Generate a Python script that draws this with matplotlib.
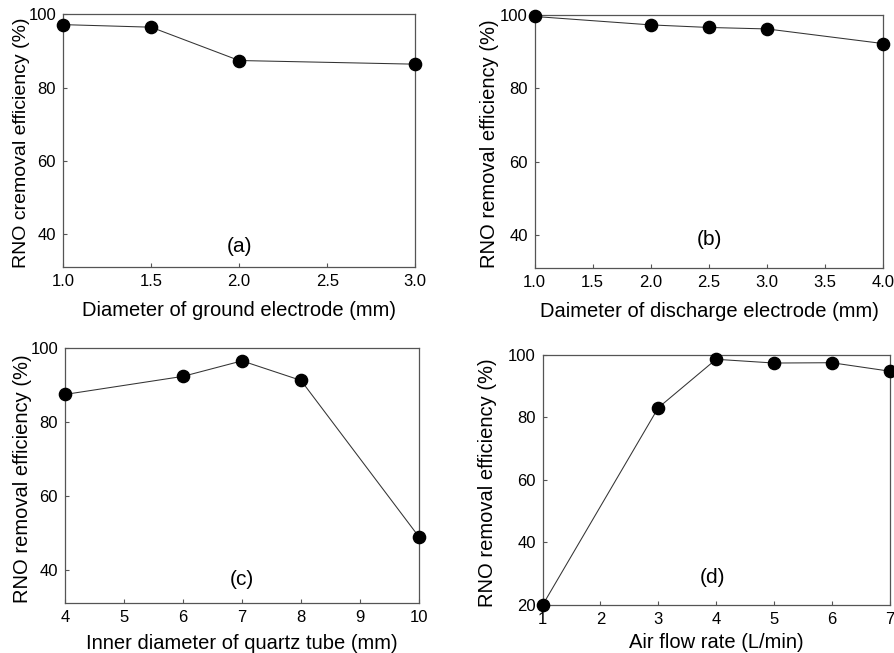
import matplotlib
matplotlib.use("Agg")
import matplotlib.pyplot as plt

plt.rcParams['font.family'] = ['Liberation Sans', 'DejaVu Sans']

# (a) ground electrode diameter
xa = [1.0, 1.5, 2.0, 3.0]
ya = [97.2, 96.5, 87.4, 86.4]
# (b) discharge electrode diameter
xb = [1.0, 2.0, 2.5, 3.0, 4.0]
yb = [99.6, 97.3, 96.6, 96.2, 92.2]
# (c) quartz tube inner diameter
xc = [4, 6, 7, 8, 10]
yc = [87.5, 92.4, 96.6, 91.3, 48.9]
# (d) air flow rate
xd = [1, 3, 4, 5, 6, 7]
yd = [20.0, 83.1, 98.6, 97.4, 97.5, 94.8]

fig = plt.figure(figsize=(8.94, 6.53), dpi=100)

panels = [
    dict(pos=[0.0705, 0.591, 0.394, 0.387], x=xa, y=ya, xlim=(1, 3), ylim=(31, 100),
         xt=[1.0, 1.5, 2.0, 2.5, 3.0], yt=[40, 60, 80, 100], fmt='{:.1f}',
         xl='Diameter of ground electrode (mm)', yl='RNO cremoval efficiency (%)',
         tag='(a)', tpos=(0.5, 0.08), ylc=-0.095, ylf=14, xlc=-0.135),
    dict(pos=[0.598, 0.590, 0.390, 0.387], x=xb, y=yb, xlim=(1, 4), ylim=(31, 100),
         xt=[1.0, 1.5, 2.0, 2.5, 3.0, 3.5, 4.0], yt=[40, 60, 80, 100], fmt='{:.1f}',
         xl='Daimeter of discharge electrode (mm)', yl='RNO removal efficiency (%)',
         tag='(b)', tpos=(0.5, 0.11), ylc=-0.103, ylf=14.5, xlc=-0.135),
    dict(pos=[0.0727, 0.0766, 0.396, 0.390], x=xc, y=yc, xlim=(4, 10), ylim=(31, 100),
         xt=[4, 5, 6, 7, 8, 9, 10], yt=[40, 60, 80, 100], fmt='{:d}',
         xl='Inner diameter of quartz tube (mm)', yl='RNO removal efficiency (%)',
         tag='(c)', tpos=(0.5, 0.094), ylc=-0.093, ylf=14.5, xlc=-0.12),
    dict(pos=[0.607, 0.0735, 0.388, 0.383], x=xd, y=yd, xlim=(1, 7), ylim=(20, 100),
         xt=[1, 2, 3, 4, 5, 6, 7], yt=[20, 40, 60, 80, 100], fmt='{:d}',
         xl='Air flow rate (L/min)', yl='RNO removal efficiency (%)',
         tag='(d)', tpos=(0.49, 0.11), ylc=-0.133, ylf=14.5, xlc=-0.11),
]

for p in panels:
    ax = fig.add_axes(p['pos'])
    ax.plot(p['x'], p['y'], color='#333333', lw=0.75, marker='o', ms=8.8,
            mfc='black', mec='black', clip_on=False, zorder=3)
    ax.set_xlim(*p['xlim'])
    ax.set_ylim(*p['ylim'])
    ax.set_xticks(p['xt'])
    ax.set_xticklabels([p['fmt'].format(v) for v in p['xt']])
    ax.set_yticks(p['yt'])
    for s in ax.spines.values():
        s.set_color('#555555')
        s.set_linewidth(0.9)
    ax.tick_params(direction='in', length=3, width=0.8, color='#555555',
                   labelsize=12, pad=5)
    ax.set_xlabel(p['xl'], fontsize=14.5)
    ax.set_ylabel(p['yl'], fontsize=p['ylf'])
    ax.yaxis.set_label_coords(p['ylc'], 0.49)
    ax.xaxis.set_label_coords(0.5, p['xlc'])
    ax.text(p['tpos'][0], p['tpos'][1], p['tag'], transform=ax.transAxes,
            ha='center', va='center', fontsize=15)

fig.savefig('out.png', dpi=100)
